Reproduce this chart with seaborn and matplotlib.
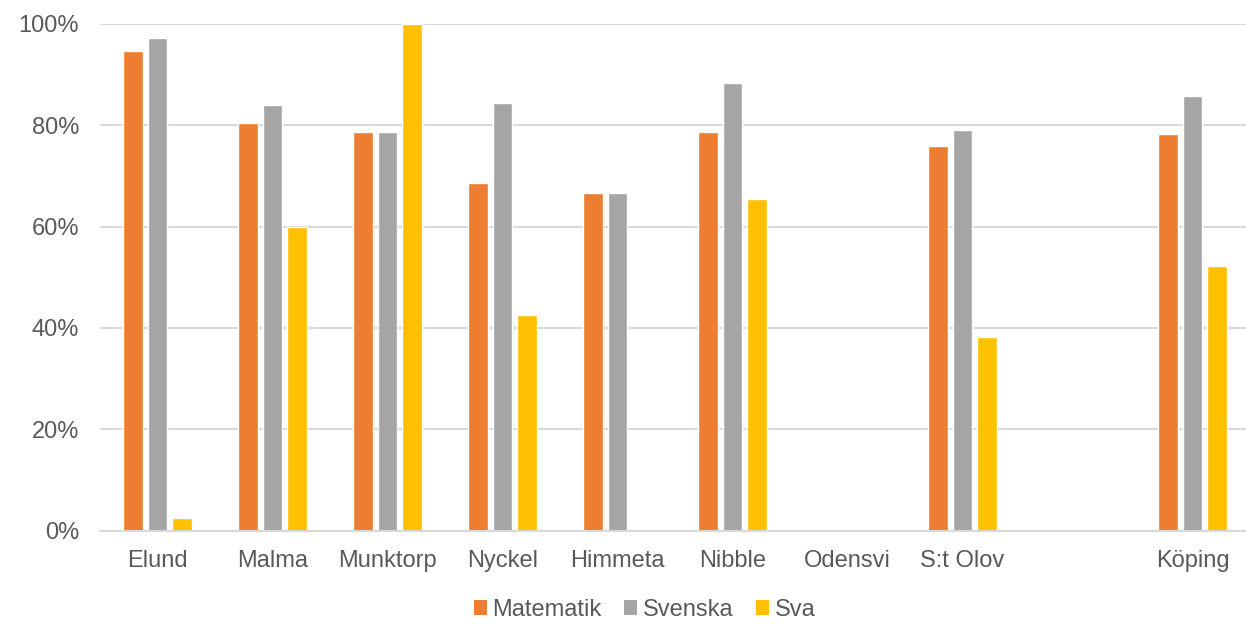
import numpy as np
import pandas as pd
import matplotlib
matplotlib.use("Agg")
import matplotlib.pyplot as plt
import seaborn as sns
from matplotlib.ticker import PercentFormatter
from matplotlib.patches import Patch

categories = ["Elund", "Malma", "Munktorp", "Nyckel", "Himmeta", "Nibble",
              "Odensvi", "S:t Olov", " ", "Köping"]
series = ["Matematik", "Svenska", "Sva"]
matematik = [0.947, 0.805, 0.787, 0.686, 0.667, 0.787, None, 0.760, None, 0.782]
svenska = [0.972, 0.840, 0.787, 0.844, 0.667, 0.884, None, 0.790, None, 0.858]
sva = [0.024, 0.600, 1.000, 0.425, None, 0.654, None, 0.383, None, 0.522]
colors = ["#ED7D31", "#A5A5A5", "#FFC000"]
yticks = [0, 0.2, 0.4, 0.6, 0.8, 1.0]

rows = []
for name, vals in zip(series, [matematik, svenska, sva]):
    for c, v in zip(categories, vals):
        if v is not None:
            rows.append({"Skola": c, "Ämne": name, "Andel": v})
df = pd.DataFrame(rows)

sns.set_theme(style="white")
plt.rcParams['font.family'] = ['Liberation Sans', 'DejaVu Sans']

fig = plt.figure(figsize=(12.46, 6.25), dpi=100)
ax = fig.add_axes([100/1246, 94.5/625, 1150/1246, 506.5/625])

sns.barplot(data=df, x="Skola", y="Andel", hue="Ämne", order=categories,
            hue_order=series, palette=colors, width=0.65, gap=0.2,
            ax=ax, legend=False, saturation=1, errorbar=None)

ax.set_xlim(-0.5, 9.5)
ax.set_ylim(0, 1.0)
ax.set_yticks(yticks)
ax.yaxis.set_major_formatter(PercentFormatter(1.0, decimals=0))
ax.grid(axis="y", color="#D9D9D9", linewidth=1.5)
ax.set_axisbelow(True)
for s in ["top", "right", "left"]:
    ax.spines[s].set_visible(False)
ax.spines["bottom"].set_color("#D9D9D9")
ax.spines["bottom"].set_linewidth(1.5)
ax.set_xlabel("")
ax.set_ylabel("")
ax.tick_params(axis="both", length=0, labelsize=17, labelcolor="#595959")
ax.tick_params(axis="x", pad=14)
ax.tick_params(axis="y", pad=15)

handles = [Patch(facecolor=c, edgecolor="none", label=s) for c, s in zip(colors, series)]
leg = fig.legend(handles=handles, loc="center", bbox_to_anchor=(0.5175, 0.024),
                 ncol=3, frameon=False, fontsize=17, handlelength=0.55,
                 handleheight=0.6, handletextpad=0.25, columnspacing=0.95)
for t in leg.get_texts():
    t.set_color("#595959")

fig.savefig("out.png", dpi=100)
